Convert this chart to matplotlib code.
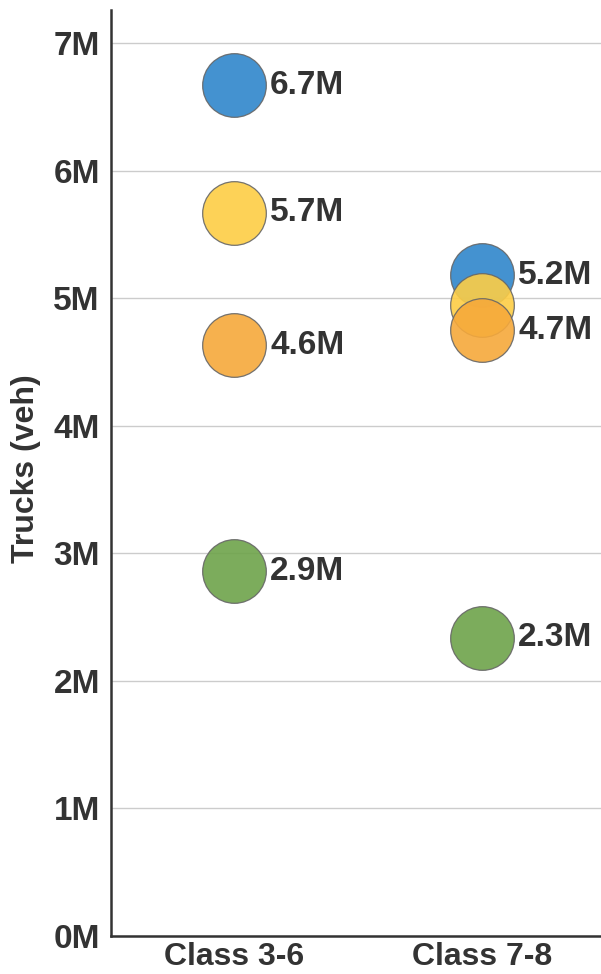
import numpy as np
import matplotlib.pyplot as plt

plt.rcParams['font.family'] = ['Liberation Sans', 'DejaVu Sans']

categories = ['Class 3-6', 'Class 7-8']
# values in millions of vehicles, one list per series (colour)
blue_vals = [6.67, 5.18]
yellow_vals = [5.67, 4.95]
orange_vals = [4.63, 4.75]
green_vals = [2.86, 2.34]
series = [blue_vals, yellow_vals, orange_vals, green_vals]
colors = ['#2f86cb', '#fdcd45', '#f6a93b', '#6ea34a']
# labels shown next to circles (None = hidden)
labels = [['6.7M', '5.2M'], ['5.7M', None], ['4.6M', '4.7M'], ['2.9M', '2.3M']]

fig = plt.figure(figsize=(6.01, 9.74), dpi=100)
ax = fig.add_axes([111 / 601, 38 / 974, 490 / 601, 926 / 974])

x = np.arange(len(categories))
for vals, col, labs in zip(series, colors, labels):
    ax.scatter(x, vals, s=2100, color=col, alpha=0.9, edgecolor='#666666',
               linewidth=0.9, zorder=3)
    for xi, v, lab in zip(x, vals, labs):
        if lab:
            ax.annotate(lab, (xi, v), xytext=(26, 0), textcoords='offset points',
                        va='center', ha='left', fontsize=24, fontweight='bold',
                        color='#333333', zorder=5)

ax.set_xlim(-0.496, 1.48)
ax.set_ylim(0, 7.26)
ax.set_xticks(x)
ax.set_xticklabels(categories, fontsize=23, fontweight='bold', color='#333333')
ax.set_yticks(range(0, 8))
ax.set_yticklabels([f'{i}M' for i in range(0, 8)], fontsize=24,
                   fontweight='bold', color='#333333')
ax.tick_params(axis='y', length=0, pad=8)
ax.tick_params(axis='x', length=0, pad=4)
ax.set_ylabel('Trucks (veh)', fontsize=23, fontweight='bold', color='#333333')
ax.yaxis.set_label_coords(-0.143, 0.505)
ax.yaxis.grid(True, color='#cccccc', linewidth=1, zorder=0)
ax.set_axisbelow(True)
for s in ['top', 'right']:
    ax.spines[s].set_visible(False)
for s in ['left', 'bottom']:
    ax.spines[s].set_color('#333333')
    ax.spines[s].set_linewidth(1.8)

fig.savefig('out.png', dpi=100)
